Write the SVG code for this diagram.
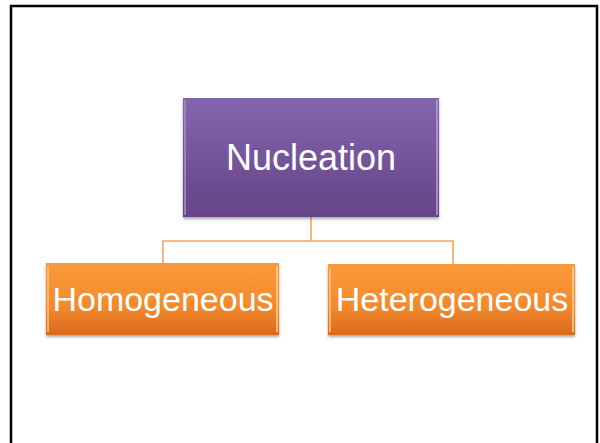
<svg xmlns="http://www.w3.org/2000/svg" width="600" height="443" viewBox="0 0 600 443">
<style>
.lbl{font-family:"Liberation Sans",Arial,sans-serif;fill:#ffffff;text-anchor:middle}
.conn{fill:none;stroke:#f7a55e;stroke-width:1.6}
.edge{fill:none;stroke-width:2}
</style>
<defs>
<linearGradient id="gp" x1="0" y1="0" x2="0" y2="1">
<stop offset="0" stop-color="#8565ae"/>
<stop offset="1" stop-color="#644487"/>
</linearGradient>
<linearGradient id="go" x1="0" y1="0" x2="0" y2="1">
<stop offset="0" stop-color="#fa9a3c"/>
<stop offset="0.6" stop-color="#f38a2c"/>
<stop offset="1" stop-color="#d9691c"/>
</linearGradient>
<filter id="sh" x="-10%" y="-10%" width="120%" height="130%">
<feDropShadow dx="0" dy="2" stdDeviation="1.5" flood-color="#000" flood-opacity="0.35"/>
</filter>
</defs>
<rect x="0" y="0" width="600" height="443" fill="#ffffff"/>
<path d="M11,443 V6 H597 V443" fill="none" stroke="#000" stroke-width="2.5"/>
<g id="connectors">
<path class="conn" d="M311,217 V241 M163,263 V241 H453 V264"/>
</g>
<g id="nucleation">
<rect x="183" y="98" width="256" height="119" fill="url(#gp)" filter="url(#sh)"/>
<path class="edge" d="M185,100 V215" stroke="#a68bd0" opacity="0.8"/>
<path class="edge" d="M437,100 V215" stroke="#b39ddb" opacity="0.8"/>
<text class="lbl" x="311" y="170" font-size="36">Nucleation</text>
</g>
<g id="homogeneous">
<rect x="46" y="263" width="233" height="72" fill="url(#go)" filter="url(#sh)"/>
<path class="edge" d="M48,266 V332" stroke="#fcc27a" opacity="0.8"/>
<path class="edge" d="M277,266 V332" stroke="#fdd08a" opacity="0.8"/>
<text class="lbl" x="163" y="311" font-size="34">Homogeneous</text>
</g>
<g id="heterogeneous">
<rect x="328" y="264" width="247" height="71" fill="url(#go)" filter="url(#sh)"/>
<path class="edge" d="M330,267 V332" stroke="#fcc27a" opacity="0.8"/>
<path class="edge" d="M573,267 V332" stroke="#fdd08a" opacity="0.8"/>
<text class="lbl" x="452" y="311" font-size="34">Heterogeneous</text>
</g>
</svg>
